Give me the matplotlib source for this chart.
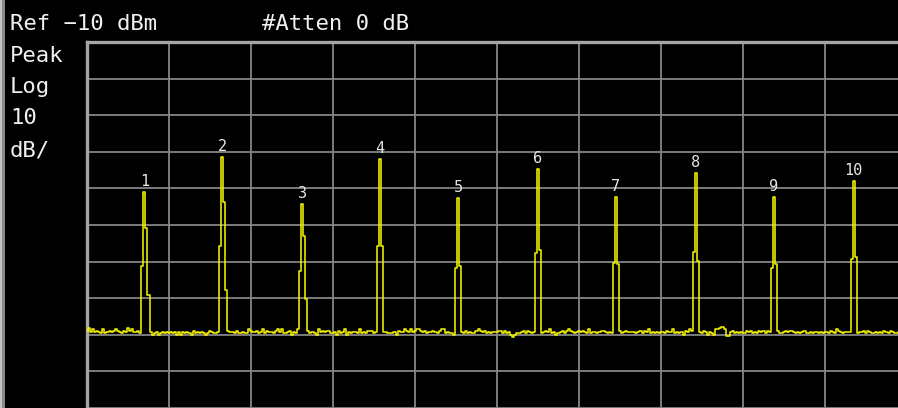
import numpy as np
import matplotlib
matplotlib.use("Agg")
import matplotlib.pyplot as plt
from matplotlib.patches import Rectangle

# screen settings
ref_level = -10      # dBm, top of graticule
db_per_div = 10
n_div = 10
n_points = 401       # trace points

# noise floor, one digit per trace point
# level = noise_base + noise_step * digit
noise_base = -91.0
noise_step = 0.35
noise_rows = [
    "6857565474565676546586755645443534534545",
    "4545353545436454543465445556465546445447",
    "6556457465546757445635475674645437565664",
    "4536457354554745466645456554445365576575",
    "6776564556546774544345554645446765645455",
    "5664645313445646545563456574534564676545",
    "6565474554566545457564565555456465745454",
    "5546557454536576758546535437789722564545",
    "4465645465646554564456566545456445455454",
    "5546547654555456455646544545465465445564",
    "5",
]

# marker peaks (trace point, levels in dBm)
peak_bins = [28, 66, 105, 143, 181, 220, 258, 297, 335, 374]
peak_top = [-51.0, -41.4, -54.3, -42.0, -52.6, -44.7, -52.3, -45.8, -52.3, -48.0]
left_lvl = [-71.2, -65.7, -72.6, -65.7, -71.7, -67.7, -70.4, -67.4, -71.7, -69.3]
right_lvl = [-60.8, -53.7, -63.0, -65.7, -71.2, -66.8, -70.7, -69.8, -70.7, -68.8]
tail_lvl = [-79.1, -77.8, -80.2, None, None, None, None, None, None, None]
marker_labels = ["1", "2", "3", "4", "5", "6", "7", "8", "9", "10"]

digits = np.array([int(c) for c in "".join(noise_rows)], dtype=float)
trace = noise_base + noise_step * digits
for k, top, lft, rgt, tail in zip(peak_bins, peak_top, left_lvl, right_lvl, tail_lvl):
    trace[k - 1] = lft
    trace[k] = top
    trace[k + 1] = rgt
    if tail is not None:
        trace[k + 2] = tail
x = np.arange(len(trace))

W, H = 898, 408
fig = plt.figure(figsize=(W / 100, H / 100), dpi=100, facecolor="black")

# graticule: 87 px from left, 42 px from top, 82 x 36.6 px divisions
gx0, gy0, gw, gh = 87, 42, 820, 366
ax = fig.add_axes([gx0 / W, 1 - (gy0 + gh) / H, gw / W, gh / H])
ax.set_facecolor("black")
ax.set_xlim(0, n_points - 1)
ax.set_ylim(ref_level - n_div * db_per_div, ref_level)
ax.set_xticks(np.linspace(0, n_points - 1, n_div + 1))
ax.set_yticks(np.arange(ref_level - n_div * db_per_div, ref_level + 1, db_per_div))
ax.tick_params(length=0, labelleft=False, labelbottom=False)
ax.grid(True, color="#858585", lw=1.3)
ax.set_axisbelow(True)
for side in ["left", "top"]:
    ax.spines[side].set_color("#a5a5a5")
    ax.spines[side].set_linewidth(2.4)
for side in ["right", "bottom"]:
    ax.spines[side].set_color("#858585")

ax.plot(x, trace, color="#f2f000", lw=1.15, drawstyle="steps-mid", zorder=3)

for k, top, lbl in zip(peak_bins, peak_top, marker_labels):
    ax.annotate(lbl, (k, top), xytext=(0, 2), textcoords="offset points",
                ha="center", va="bottom", color="#e6e6e6", fontsize=11,
                family="DejaVu Sans Mono", zorder=4)

# left edge bezel
fig.patches.append(Rectangle((0, 0), 2 / W, 1, transform=fig.transFigure,
                             facecolor="#c4c4c4", edgecolor="none"))
fig.patches.append(Rectangle((2 / W, 0), 3 / W, 1, transform=fig.transFigure,
                             facecolor="#8a8a8a", edgecolor="none"))

txt = dict(color="#f0f0f0", fontsize=16, family="DejaVu Sans Mono", va="baseline")
fig.text(10 / W, 1 - 30 / H, "Ref \u221210 dBm", **txt)
fig.text(262 / W, 1 - 30 / H, "#Atten 0 dB", **txt)
for text, base in [("Peak", 62), ("Log", 93), ("10", 124), ("dB/", 156)]:
    fig.text(10 / W, 1 - base / H, text, **txt)

fig.savefig("out.png", dpi=100, facecolor="black")
